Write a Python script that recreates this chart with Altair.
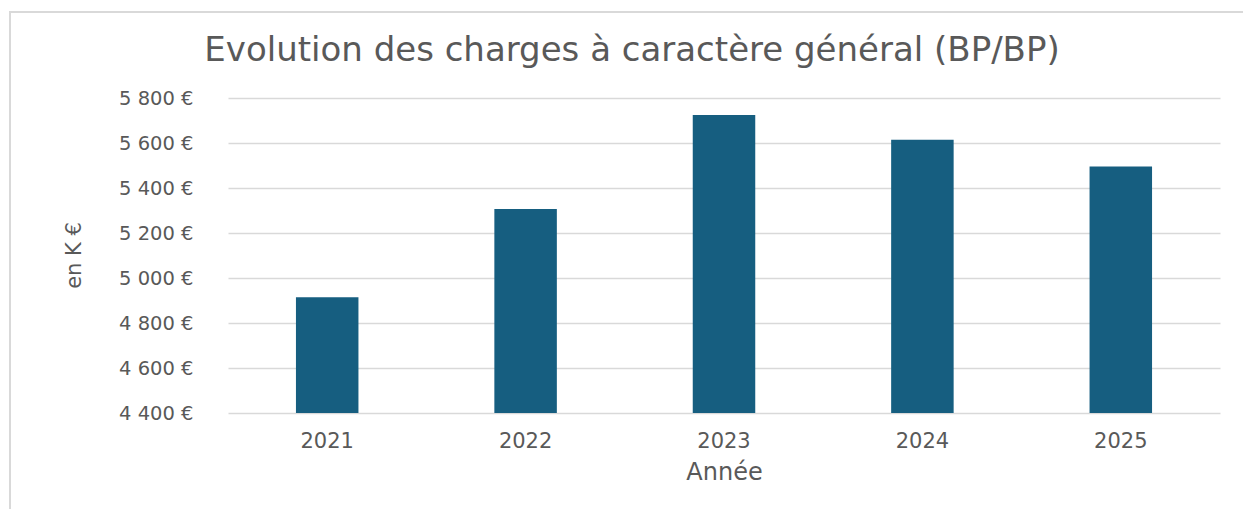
import altair as alt
import pandas as pd

years = ["2021", "2022", "2023", "2024", "2025"]
values = [4915, 5307, 5724, 5614, 5496]
y_ticks = [4400, 4600, 4800, 5000, 5200, 5400, 5600, 5800]
y_min, y_max = 4400, 5800
title_text = "Evolution des charges à caractère général (BP/BP)"

df = pd.DataFrame({"Année": years, "Montant": values})

FONT = "DejaVu Sans"
GREY = "#595959"

W, H = 992, 315
LEFT, TOP = 228, 98

bars = alt.Chart(df).mark_bar(color="#165E80").encode(
    x=alt.X(
        "Année:N",
        sort=years,
        scale=alt.Scale(paddingInner=0.685, paddingOuter=0.3425),
        axis=alt.Axis(
            title="Année",
            labelAngle=0,
            labelFontSize=21,
            labelColor=GREY,
            labelFont=FONT,
            labelPadding=17,
            ticks=False,
            domain=False,
            titleFontSize=24,
            titleColor=GREY,
            titleFont=FONT,
            titleFontWeight="normal",
            titlePadding=9,
        ),
    ),
    y=alt.Y(
        "Montant:Q",
        scale=alt.Scale(domain=[y_min, y_max], zero=False, nice=False),
        axis=alt.Axis(
            title="en K €",
            values=y_ticks,
            labelExpr="replace(format(datum.value, ',d'), ',', ' ') + ' €'",
            labelFontSize=19.5,
            labelColor=GREY,
            labelFont=FONT,
            labelPadding=35,
            ticks=False,
            tickSize=0,
            domain=False,
            gridColor="#d9d9d9",
            gridWidth=1.5,
            titleFontSize=21,
            titleColor=GREY,
            titleFont=FONT,
            titleFontWeight="normal",
            titleAngle=-90,
            titleBaseline="middle",
            titleAlign="center",
            titleX=-154,
            titleY=157,
        ),
    ),
    y2=alt.datum(y_min),
)

frame = alt.Chart(df).mark_rect(
    fill=None, stroke="#d9d9d9", strokeWidth=1.5, clip=False
).encode(
    x=alt.value(10 - LEFT),
    x2=alt.value(1243 - LEFT + 20),
    y=alt.value(12 - TOP),
    y2=alt.value(509 - TOP + 20),
)

title = alt.Chart(pd.DataFrame({"t": [title_text]})).mark_text(
    font=FONT, fontSize=34, color=GREY, align="center", baseline="alphabetic"
).encode(
    text="t:N",
    x=alt.value(632 - LEFT),
    y=alt.value(61 - TOP),
)

chart = (
    alt.layer(frame, bars, title)
    .properties(
        width=W,
        height=H,
        autosize=alt.AutoSizeParams(type="none"),
        padding={"left": LEFT, "top": TOP, "right": 1243 - LEFT - W, "bottom": 509 - TOP - H},
        background="white",
    )
    .configure_view(stroke=None)
)

chart.save("out.html", embed_options={"renderer": "svg", "actions": False})
